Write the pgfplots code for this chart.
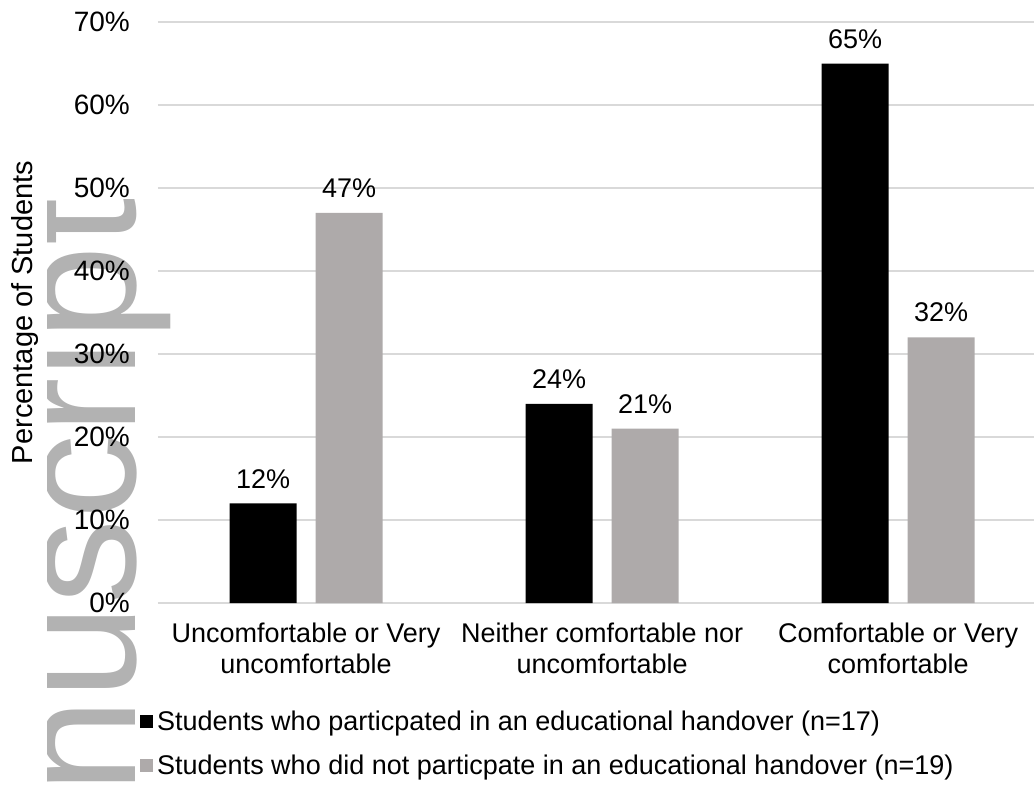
\documentclass[border=0pt]{standalone}
\usepackage{pgfplots}
\pgfplotsset{compat=1.18}
\usepackage{fontspec}
\setmainfont{Liberation Sans}
\definecolor{bargray}{RGB}{174,170,170}
\definecolor{wmgray}{RGB}{178,178,178}
\definecolor{gridgray}{RGB}{217,217,217}
\begin{document}
\begin{tikzpicture}[x=1pt,y=1pt]
\useasboundingbox (0,0) rectangle (1034,785);
% watermark (clipped, as in the reference)
\begin{scope}
\clip (47,-20) rectangle (300,785);
\node[rotate=90, anchor=base west, inner sep=0pt, text=wmgray, font=\fontsize{170}{170}\selectfont] at (135,-9) {nuscript};
\end{scope}
\begin{axis}[
  at={(158pt,182pt)}, anchor=south west,
  scale only axis, width=876pt, height=581pt,
  ybar=19pt, bar width=67pt,
  xmin=-0.5, xmax=2.459,
  ymin=0, ymax=70,
  xtick={0,1,2},
  xticklabels={{Uncomfortable or Very\\uncomfortable},{Neither comfortable nor\\uncomfortable},{Comfortable or Very\\comfortable}},
  ytick={0,10,20,30,40,50,60,70},
  yticklabels={0\%,10\%,20\%,30\%,40\%,50\%,60\%,70\%},
  /pgf/number format/assume math mode=true,
  axis x line*=bottom, axis y line*=left,
  y axis line style={draw=none},
  x axis line style={draw=gridgray, line width=1.2pt},
  major tick length=0pt,
  ymajorgrids, grid style={draw=gridgray, line width=1.2pt},
  yticklabel style={font=\fontsize{28}{32}\selectfont, anchor=east, inner sep=0pt, xshift=-28pt},
  xticklabel style={font=\fontsize{27}{31}\selectfont, align=center, anchor=north, inner sep=0pt, yshift=-20pt},
  ylabel={Percentage of Students},
  every axis y label/.style={at={(axis description cs:0,0.5)}, rotate=90, anchor=center, yshift=132.5pt, font=\fontsize{29}{33}\selectfont},
  nodes near coords={\pgfmathprintnumber{\pgfplotspointmeta}\%},
  every node near coord/.append style={font=\fontsize{27}{31}\selectfont, anchor=south, inner sep=0pt, yshift=15pt, text=black},
  legend style={at={(axis description cs:0,0)}, anchor=north west, xshift=-18pt, yshift=-108pt, draw=none, fill=none, inner sep=0pt, font=\fontsize{27}{31}\selectfont, row sep=23pt, column sep=4pt, nodes={inner sep=0pt}},
  legend cell align=left,
]
\addplot[fill=black, draw=none, legend image code/.code={\fill[black] (0pt,-6.5pt) rectangle (13pt,6.5pt);}] coordinates {(0,12) (1,24) (2,65)};
\addplot[fill=bargray, draw=none, legend image code/.code={\fill[bargray] (0pt,-6.5pt) rectangle (13pt,6.5pt);}] coordinates {(0,47) (1,21) (2,32)};
\legend{Students who particpated in an educational handover (n=17), Students who did not particpate in an educational handover (n=19)}
\end{axis}
\end{tikzpicture}
\end{document}
